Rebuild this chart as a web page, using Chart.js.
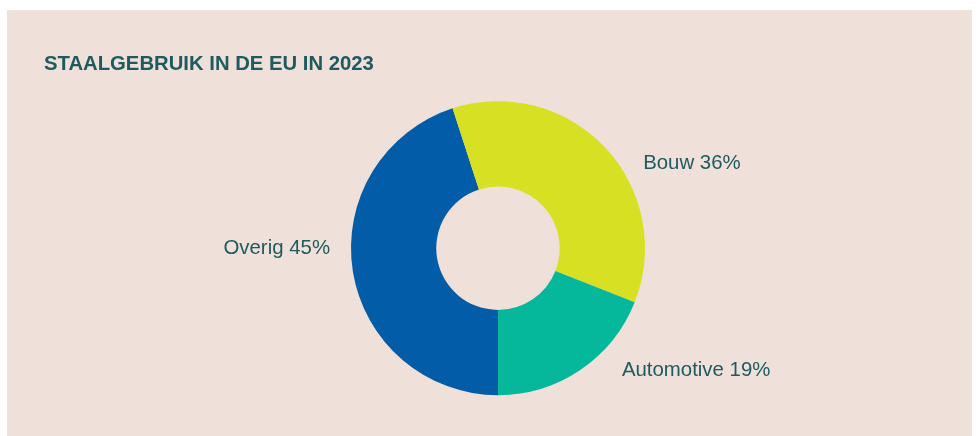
<!DOCTYPE html>
<html>
<head>
<meta charset="utf-8">
<script src="https://cdn.jsdelivr.net/npm/chart.js@4/dist/chart.umd.min.js"></script>
<style>
  html, body { margin: 0; padding: 0; background: #ffffff; }
  #wrap { position: absolute; left: 7px; top: 10px; width: 965px; height: 426px; background: #efe0d9; }
</style>
</head>
<body>
<div id="wrap"><canvas id="staalChart" width="965" height="426"></canvas></div>
<script>
// staalgebruik per sector (%)
const sectoren = ['Overig', 'Bouw', 'Automotive'];
const aandelen = [45, 36, 19];
const kleuren = ['#035ca8', '#d7e022', '#05b89c'];

const tekstKleur = '#1e5a5f';
const fontFam = '"Liberation Sans", Arial, Helvetica, sans-serif';

// labels naast de ringdelen, afgeleid van de hoek van elk segment
const labelPlugin = {
  id: 'sectorLabels',
  afterDatasetsDraw(chart, args, opts) {
    const ctx = chart.ctx;
    const meta = chart.getDatasetMeta(0);
    ctx.save();
    ctx.font = '20.4px ' + fontFam;
    ctx.fillStyle = tekstKleur;
    ctx.textBaseline = 'middle';
    meta.data.forEach((arc, i) => {
      const p = arc.getProps(['x', 'y', 'startAngle', 'endAngle', 'outerRadius'], true);
      const mid = (p.startAngle + p.endAngle) / 2 + (opts.nudge[i] || 0) * Math.PI / 180;
      const r = p.outerRadius + opts.gap[i];
      const x = p.x + Math.cos(mid) * r;
      const y = p.y + Math.sin(mid) * r + opts.yShift;
      ctx.textAlign = Math.cos(mid) >= 0 ? 'left' : 'right';
      ctx.fillText(sectoren[i] + ' ' + aandelen[i] + '%', x, y);
    });
    ctx.restore();
  }
};

const ctx = document.getElementById('staalChart').getContext('2d');
new Chart(ctx, {
  type: 'doughnut',
  data: {
    labels: sectoren,
    datasets: [{
      data: aandelen,
      backgroundColor: kleuren,
      borderWidth: 0
    }]
  },
  plugins: [labelPlugin],
  options: {
    responsive: false,
    animation: false,
    rotation: 180,
    radius: 147,
    cutout: '42%',
    layout: {
      padding: { left: 37, right: 20, top: 0, bottom: 26.5 }
    },
    plugins: {
      legend: { display: false },
      tooltip: { enabled: false },
      title: {
        display: true,
        text: 'STAALGEBRUIK IN DE EU IN 2023',
        align: 'start',
        color: tekstKleur,
        font: { family: fontFam, size: 20.3, weight: 'bold', lineHeight: 1.2 },
        padding: { top: 42.5, bottom: 10 }
      },
      sectorLabels: {
        gap: [21, 22, 25.5],
        nudge: [9.6, 12.4, -11.7],
        yShift: 2
      }
    }
  }
});
</script>
</body>
</html>
